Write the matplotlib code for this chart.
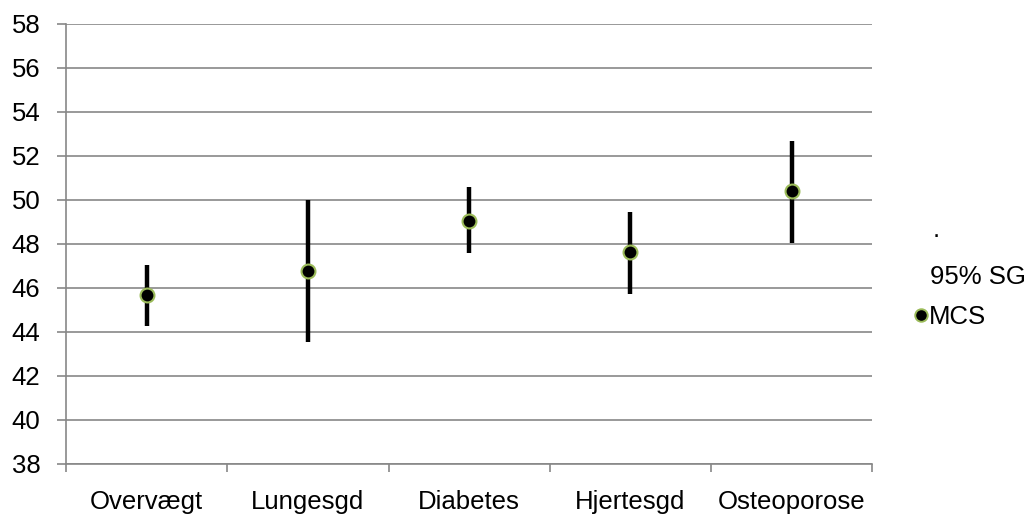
import matplotlib
matplotlib.use("Agg")
import matplotlib.pyplot as plt
from matplotlib.lines import Line2D
import numpy as np

categories = ["Overvægt", "Lungesgd", "Diabetes", "Hjertesgd", "Osteoporose"]
mcs        = [45.68, 46.79, 49.06, 47.64, 50.41]
ci_low     = [44.27, 43.56, 47.58, 45.73, 48.03]
ci_high    = [47.05, 50.00, 50.60, 49.45, 52.68]

GRID  = "#878787"
GREEN = "#9BBB59"
FS    = 18.5

plt.rcParams["font.family"] = ["Liberation Sans", "DejaVu Sans"]

fig = plt.figure(figsize=(10.33, 5.16), dpi=100, facecolor="white")
ax = fig.add_axes([0.0639, 0.1008, 0.7805, 0.8527])

x = np.arange(len(categories))
lo = np.array(mcs) - np.array(ci_low)
hi = np.array(ci_high) - np.array(mcs)

ax.errorbar(x, mcs, yerr=[lo, hi], fmt="none", ecolor="black",
            elinewidth=3.2, capsize=0, zorder=3)
ax.plot(x, mcs, "o", color="black", markersize=10, markeredgecolor=GREEN,
        markeredgewidth=1.5, linestyle="none", zorder=4)

ax.set_xlim(-0.5, len(categories) - 0.5)
ax.set_ylim(38, 58)
ax.set_yticks(np.arange(38, 59, 2))
ax.yaxis.grid(True, color=GRID, linewidth=1.2)
ax.set_axisbelow(True)

# category boundaries as tick marks, labels at centres
ax.set_xticks(np.arange(-0.5, len(categories), 1))
ax.set_xticklabels([])
ax.set_xticks(x, minor=True)
ax.set_xticklabels(categories, minor=True, fontsize=FS)
ax.tick_params(axis="x", which="minor", length=0, pad=19)
ax.tick_params(axis="x", which="major", length=6, color=GRID, width=1.2)
ax.tick_params(axis="y", length=6.5, color=GRID, width=1.2, labelsize=FS, pad=12)

for side in ["top", "right"]:
    ax.spines[side].set_visible(False)
for side in ["left", "bottom"]:
    ax.spines[side].set_color(GRID)
    ax.spines[side].set_linewidth(1.2)

# legend
fig.text(0.903, 0.555, ".", fontsize=FS, ha="left", va="center")
fig.text(0.900, 0.463, "95% SG", fontsize=FS, ha="left", va="center")
handle = Line2D([], [], marker="o", color="black", markersize=9,
                markeredgecolor=GREEN, markeredgewidth=1.4, linestyle="none")
fig.legend([handle], ["MCS"], loc="center left", bbox_to_anchor=(0.872, 0.385),
           frameon=False, fontsize=FS, handlelength=0.6, handletextpad=0.0,
           borderpad=0)

fig.savefig("out.png", dpi=100, facecolor="white")
